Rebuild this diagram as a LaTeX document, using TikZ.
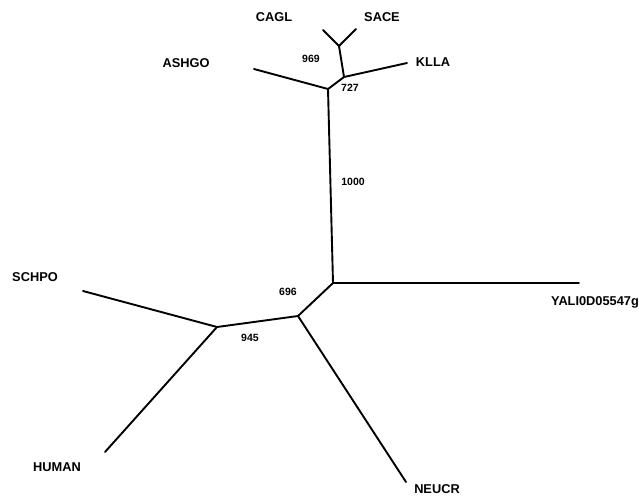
\documentclass[tikz,border=0pt]{standalone}
\usepackage{fontspec}
\setmainfont{Liberation Sans}
\begin{document}
\begin{tikzpicture}[x=1pt,y=-1pt,
  branch/.style={line width=1.9pt,line cap=round,line join=round},
  taxon/.style={font=\fontsize{12.8}{14}\selectfont\bfseries,inner sep=0pt},
  support/.style={font=\fontsize{10.5}{12}\selectfont\bfseries,inner sep=0pt}]
\useasboundingbox (0,0) rectangle (639,495);
% internal nodes
\coordinate (nSC) at (339,46);
\coordinate (nK) at (344,77);
\coordinate (nA) at (328,89);
\coordinate (nY) at (333,283);
\coordinate (nN) at (298,316);
\coordinate (nH) at (217,327);
% leaf tips
\coordinate (tCAGL) at (323,30);
\coordinate (tSACE) at (356,29);
\coordinate (tKLLA) at (407,63);
\coordinate (tASHGO) at (254,69);
\coordinate (tYALI) at (579,283);
\coordinate (tNEUCR) at (406,482);
\coordinate (tSCHPO) at (83,291);
\coordinate (tHUMAN) at (105,452);
% branches
\draw[branch] (nSC) -- (tCAGL);
\draw[branch] (nSC) -- (tSACE);
\draw[branch] (nK) -- (nSC);
\draw[branch] (nK) -- (tKLLA);
\draw[branch] (nA) -- (nK);
\draw[branch] (nA) -- (tASHGO);
\draw[branch] (nY) -- (nA);
\draw[branch] (nY) -- (tYALI);
\draw[branch] (nN) -- (nY);
\draw[branch] (nN) -- (tNEUCR);
\draw[branch] (nH) -- (nN);
\draw[branch] (nH) -- (tSCHPO);
\draw[branch] (nH) -- (tHUMAN);
% taxon labels
\node[taxon] (lCAGL) at (274,17) {CAGL};
\node[taxon] (lSACE) at (382,17) {SACE};
\node[taxon] (lKLLA) at (433,62) {KLLA};
\node[taxon] (lASHGO) at (186,63) {ASHGO};
\node[taxon] (lYALI) at (595,302) {YALI0D05547g};
\node[taxon] (lNEUCR) at (437,489) {NEUCR};
\node[taxon] (lSCHPO) at (35,277) {SCHPO};
\node[taxon] (lHUMAN) at (57,467) {HUMAN};
% bootstrap support values
\node[support] (b969) at (311,59) {969};
\node[support] (b727) at (350,88) {727};
\node[support] (b1000) at (353,182) {1000};
\node[support] (b696) at (288,292) {696};
\node[support] (b945) at (250,338) {945};
\end{tikzpicture}
\end{document}
